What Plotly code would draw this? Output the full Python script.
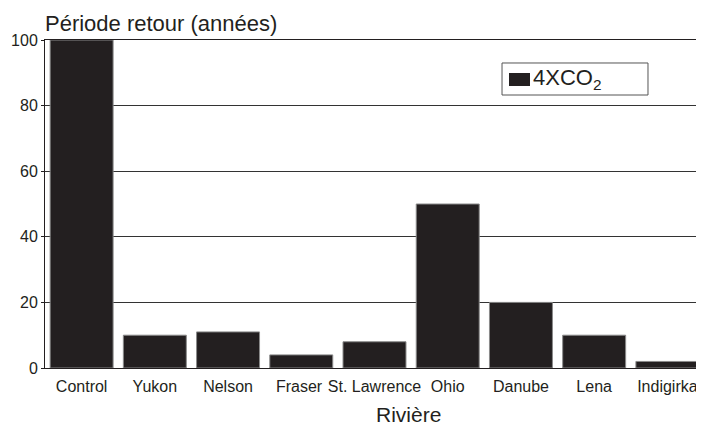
import plotly.graph_objects as go

rivers = ["Control", "Yukon", "Nelson", "Fraser", "St. Lawrence", "Ohio", "Danube", "Lena", "Indigirka"]
return_period = [100, 10, 11, 4, 8, 50, 20, 10, 2]
# tick labels as printed (a trailing no-break space nudges the crowded label left, as in the original)
tick_labels = ["Control", "Yukon", "Nelson", "Fraser\u00a0", "St. Lawrence",
               "Ohio", "Danube", "Lena", "Indigirka"]
series_name = "4XCO<sub>2</sub>"
y_ticks = [0, 20, 40, 60, 80, 100]

FONT = "Arial, Liberation Sans, sans-serif"
INK = "#231f20"

fig = go.Figure()
fig.add_trace(go.Bar(
    x=rivers, y=return_period, name=series_name,
    marker=dict(color=INK, line=dict(color="#8a8a8a", width=1)),
    showlegend=False,
))

# legend drawn as a boxed key (paper coordinates)
shapes = [
    dict(type="rect", xref="paper", yref="paper", x0=0.6935, x1=0.9150, y0=0.8323, y1=0.9299,
         line=dict(color="#555", width=1), fillcolor="white", layer="above"),
    dict(type="rect", xref="paper", yref="paper", x0=0.7041, x1=0.7360, y0=0.8598, y1=0.8994,
         line=dict(width=0), fillcolor=INK, layer="above"),
]

fig.update_layout(
    width=696, height=417,
    margin=dict(l=37, r=0, t=32, b=57, autoexpand=False),
    paper_bgcolor="white", plot_bgcolor="white",
    font=dict(family=FONT, color=INK, size=16),
    bargap=0.14,
    showlegend=False,
    shapes=shapes,
    xaxis=dict(
        showline=True, linecolor=INK, linewidth=1, mirror=True,
        tickmode="array", tickvals=rivers, ticktext=tick_labels,
        ticks="", tickfont=dict(size=16), ticklabelstandoff=4, tickangle=0,
        automargin=False,
    ),
    yaxis=dict(
        range=[0, 100], tickvals=y_ticks,
        showgrid=True, gridcolor="#333333", gridwidth=1,
        showline=True, linecolor=INK, linewidth=1,
        ticks="outside", ticklen=3, tickcolor=INK,
        tickfont=dict(size=16), zeroline=False, automargin=False,
    ),
    annotations=[
        dict(
            text="Période retour (années)", xref="paper", yref="paper",
            x=0.0, y=1.0, xanchor="left", yanchor="bottom", yshift=2, xshift=-2,
            showarrow=False, font=dict(size=22, family=FONT, color=INK),
        ),
        dict(
            text="Rivière", xref="paper", yref="paper",
            x=0.551, y=-0.143, xanchor="center", yanchor="middle",
            showarrow=False, font=dict(size=21, family=FONT, color=INK),
        ),
        dict(
            text=series_name, xref="paper", yref="paper",
            x=0.7375, y=0.8811, xanchor="left", yanchor="middle",
            showarrow=False, font=dict(size=22, family=FONT, color=INK),
        ),
    ],
)

fig.write_html("out.html")
